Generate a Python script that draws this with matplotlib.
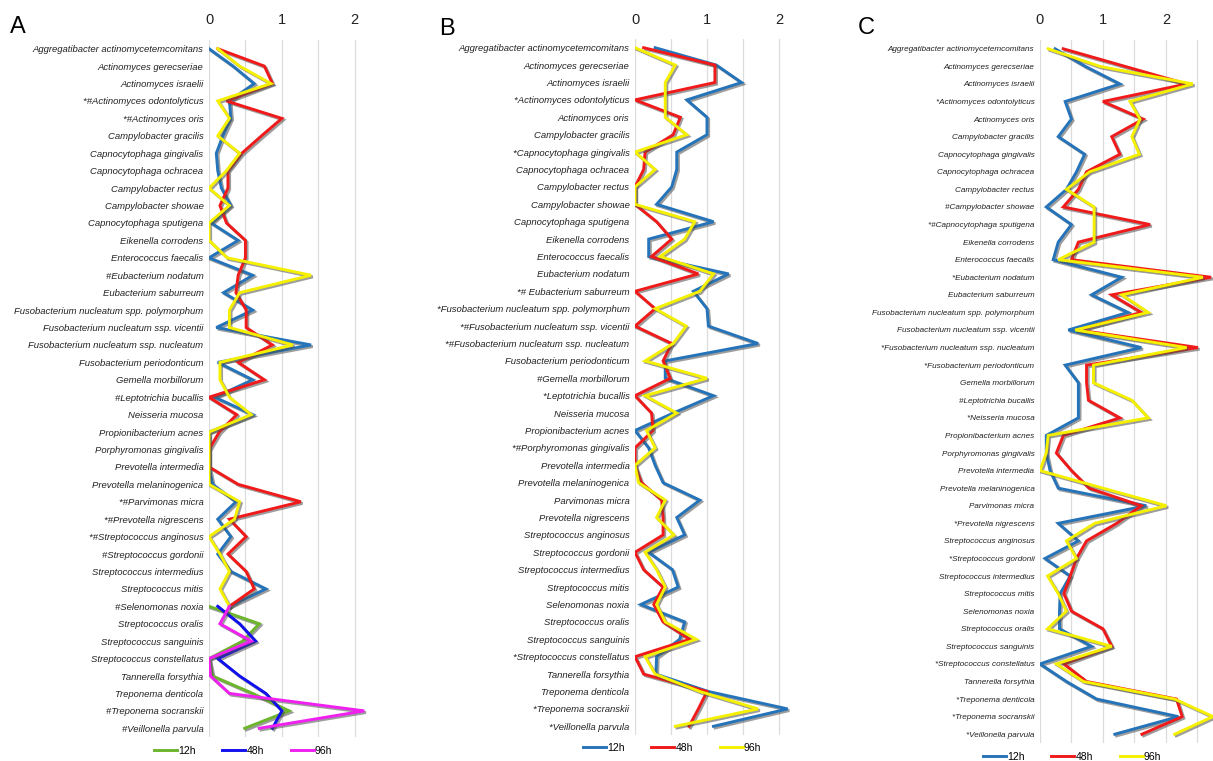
import numpy as np
import matplotlib
matplotlib.use('Agg')
import matplotlib.pyplot as plt
import matplotlib.patheffects as pe
from matplotlib.lines import Line2D

plt.rcParams['font.family'] = ['Liberation Sans', 'DejaVu Sans']

# ---------------- panel A ----------------
species_a = [
    'Aggregatibacter actinomycetemcomitans', 'Actinomyces gerecseriae', 'Actinomyces israelii',
    '*#Actinomyces odontolyticus', '*#Actinomyces oris', 'Campylobacter gracilis',
    'Capnocytophaga gingivalis', 'Capnocytophaga ochracea', 'Campylobacter rectus',
    'Campylobacter showae', 'Capnocytophaga sputigena', 'Eikenella corrodens',
    'Enterococcus faecalis', '#Eubacterium nodatum', 'Eubacterium saburreum',
    'Fusobacterium nucleatum spp. polymorphum', 'Fusobacterium nucleatum ssp. vicentii',
    'Fusobacterium nucleatum ssp. nucleatum', 'Fusobacterium periodonticum',
    'Gemella morbillorum', '#Leptotrichia bucallis', 'Neisseria mucosa',
    'Propionibacterium acnes', 'Porphyromonas gingivalis', 'Prevotella intermedia',
    'Prevotella melaninogenica', '*#Parvimonas micra', '*#Prevotella nigrescens',
    '*#Streptococcus anginosus', '#Streptococcus gordonii', 'Streptococcus intermedius',
    'Streptococcus mitis', '#Selenomonas noxia', 'Streptococcus oralis',
    'Streptococcus sanguinis', 'Streptococcus constellatus', 'Tannerella forsythia',
    'Treponema denticola', '#Treponema socranskii', '#Veillonella parvula']

# upper part of panel A (rows 0-32)
a_12h_top = [0.0, 0.33, 0.62, 0.28, 0.30, 0.19, 0.10, 0.12, 0.17, 0.30, 0.03, 0.40, 0.0,
             0.60, 0.20, 0.60, 0.10, 1.40, 0.12, 0.60, 0.08, 0.60, 0.0, 0.0, 0.0, 0.05,
             0.37, 0.12, 0.30, 0.12, 0.30, 0.78, 0.28]
a_48h_top = [0.12, 0.76, 0.87, 0.24, 1.00, 0.72, 0.45, 0.26, 0.26, 0.15, 0.24, 0.50, 0.50,
             0.40, 0.37, 0.51, 0.51, 0.87, 0.40, 0.76, 0.0, 0.38, 0.14, 0.0, 0.0, 0.40,
             1.26, 0.28, 0.51, 0.26, 0.51, 0.62, 0.28]
a_96h_top = [0.12, 0.42, 0.85, 0.12, 0.28, 0.12, 0.42, 0.24, 0.0, 0.28, 0.0, 0.0, 0.25,
             1.40, 0.42, 0.28, 0.28, 1.15, 0.15, 0.15, 0.28, 0.58, 0.0, 0.0, 0.0, 0.0,
             0.42, 0.35, 0.0, 0.15, 0.28, 0.15, 0.28]
# lower part of panel A (rows 32-39)
a_12h_low = [0.0, 0.69, 0.46, 0.0, 0.05, 0.60, 1.10, 0.49]
a_48h_low = [0.12, 0.42, 0.64, 0.12, 0.42, 0.78, 1.00, 0.87]
a_96h_low = [0.28, 0.15, 0.58, 0.0, 0.02, 0.28, 2.13, 0.69]

# ---------------- panel B ----------------
species_b = [
    'Aggregatibacter actinomycetemcomitans', 'Actinomyces gerecseriae', 'Actinomyces israelii',
    '*Actinomyces odontolyticus', 'Actinomyces oris', 'Campylobacter gracilis',
    '*Capnocytophaga gingivalis', 'Capnocytophaga ochracea', 'Campylobacter rectus',
    'Campylobacter showae', 'Capnocytophaga sputigena', 'Eikenella corrodens',
    'Enterococcus faecalis', 'Eubacterium nodatum', '*# Eubacterium saburreum',
    '*Fusobacterium nucleatum spp. polymorphum', '*#Fusobacterium nucleatum ssp. vicentii',
    '*#Fusobacterium nucleatum ssp. nucleatum', 'Fusobacterium periodonticum',
    '#Gemella morbillorum', '*Leptotrichia bucallis', 'Neisseria mucosa',
    'Propionibacterium acnes', '*#Porphyromonas gingivalis', 'Prevotella intermedia',
    'Prevotella melaninogenica', 'Parvimonas micra', 'Prevotella nigrescens',
    'Streptococcus anginosus', 'Streptococcus gordonii', 'Streptococcus intermedius',
    'Streptococcus mitis', 'Selenomonas noxia', 'Streptococcus oralis',
    'Streptococcus sanguinis', '*Streptococcus constellatus', 'Tannerella forsythia',
    'Treponema denticola', '*Treponema socranskii', '*Veillonella parvula']

b_12h = [0.28, 1.13, 1.48, 0.72, 1.00, 1.00, 0.58, 0.58, 0.51, 0.30, 1.09, 0.19, 0.19,
         1.30, 0.81, 1.00, 1.02, 1.71, 0.42, 0.42, 1.09, 0.53, 0.0, 0.19, 0.28, 0.39,
         0.90, 0.58, 0.69, 0.19, 0.52, 0.60, 0.08, 0.69, 0.62, 0.30, 0.29, 1.02, 2.12, 1.09]
b_48h = [0.12, 1.11, 1.11, 0.0, 0.63, 0.53, 0.14, 0.12, 0.0, 0.0, 0.30, 0.51, 0.23,
         0.88, 0.0, 0.28, 0.0, 0.51, 0.39, 0.49, 0.0, 0.23, 0.25, 0.0, 0.0, 0.09,
         0.37, 0.39, 0.39, 0.0, 0.12, 0.39, 0.26, 0.39, 0.76, 0.0, 0.12, 1.00, 0.88, 0.75]
b_96h = [0.0, 0.56, 0.42, 0.42, 0.42, 0.72, 0.0, 0.28, 0.0, 0.0, 0.83, 0.69, 0.35,
         1.09, 0.90, 0.28, 0.71, 0.53, 0.14, 1.00, 0.14, 0.58, 0.16, 0.28, 0.0, 0.05,
         0.42, 0.30, 0.54, 0.14, 0.30, 0.42, 0.30, 0.42, 0.85, 0.14, 0.28, 0.90, 1.71, 0.56]

# ---------------- panel C ----------------
species_c = [
    'Aggregatibacter actinomycetemcomitans', 'Actinomyces gerecseriae', 'Actinomyces israelii',
    '*Actinomyces odontolyticus', 'Actinomyces oris', 'Campylobacter gracilis',
    'Capnocytophaga gingivalis', 'Capnocytophaga ochracea', 'Campylobacter rectus',
    '#Campylobacter showae', '*#Capnocytophaga sputigena', 'Eikenella corrodens',
    'Enterococcus faecalis', '*Eubacterium nodatum', 'Eubacterium saburreum',
    'Fusobacterium nucleatum spp. polymorphum', 'Fusobacterium nucleatum ssp. vicentii',
    '*Fusobacterium nucleatum ssp. nucleatum', '*Fusobacterium periodonticum',
    'Gemella morbillorum', '#Leptotrichia bucallis', '*Neisseria mucosa',
    'Propionibacterium acnes', 'Porphyromonas gingivalis', 'Prevotella intermedia',
    'Prevotella melaninogenica', 'Parvimonas micra', '*Prevotella nigrescens',
    'Streptococcus anginosus', '*Streptococcus gordonii', 'Streptococcus intermedius',
    'Streptococcus mitis', 'Selenomonas noxia', 'Streptococcus oralis',
    'Streptococcus sanguinis', '*Streptococcus constellatus', 'Tannerella forsythia',
    '*Treponema denticola', '*Treponema socranskii', '*Veillonella parvula']

c_12h = [0.24, 0.72, 1.27, 0.40, 0.50, 0.29, 0.71, 0.58, 0.42, 0.10, 0.50, 0.29, 0.21,
         1.30, 0.82, 1.40, 0.45, 1.61, 0.40, 0.61, 0.61, 0.61, 0.10, 0.10, 0.16, 0.29,
         1.69, 0.29, 0.61, 0.08, 0.48, 0.32, 0.31, 0.31, 0.82, 0.0, 0.42, 0.90, 2.20, 1.19]
c_48h = [0.37, 1.35, 2.33, 1.00, 1.64, 1.14, 1.27, 0.74, 0.61, 0.37, 1.75, 0.61, 0.50,
         2.72, 1.14, 1.61, 0.61, 2.51, 0.74, 0.74, 0.77, 1.27, 0.37, 0.26, 0.50, 0.78,
         1.61, 1.22, 0.74, 0.58, 0.48, 0.38, 0.50, 1.00, 1.14, 0.38, 0.74, 2.17, 2.26, 1.62]
c_96h = [0.13, 0.95, 2.43, 1.43, 1.59, 1.46, 1.58, 0.79, 0.42, 0.86, 0.86, 0.86, 0.29,
         2.59, 1.30, 1.72, 0.56, 2.33, 0.85, 0.85, 1.46, 1.72, 0.13, 0.10, 0.0, 1.00,
         2.01, 0.87, 0.42, 0.58, 0.12, 0.29, 0.42, 0.12, 1.14, 0.26, 0.69, 2.14, 2.75, 2.14]

times = ['12h', '48h', '96h']
col_12, col_48, col_96 = '#2573b8', '#f01a1a', '#f5f000'
col_green, col_navy, col_mag = '#6cb52d', '#1010ee', '#f020f0'

W, H = 1213, 761
fig = plt.figure(figsize=(W / 100, H / 100), dpi=100)


def px_axes(left, top, right, bottom):
    return fig.add_axes([left / W, 1 - bottom / H, (right - left) / W, (bottom - top) / H])


shadow = [pe.SimpleLineShadow(offset=(1.2, -1.2), shadow_color='0.3', alpha=0.55), pe.Normal()]


def setup(ax, labels, xmax, fs):
    n = len(labels)
    ax.set_xlim(0, xmax)
    ax.set_ylim(n - 0.5, -0.5)
    ax.set_yticks(np.arange(n))
    ax.set_yticklabels(labels, fontsize=fs, style='italic', color='#222222')
    ax.xaxis.tick_top()
    ax.set_xticks([0, 1, 2])
    ax.set_xticklabels(['0', '1', '2'], fontsize=10.5, color='#222222')
    ax.set_xticks(np.arange(0.5, xmax, 1.0), minor=True)
    ax.grid(True, axis='x', which='both', color='#dcdcdc', lw=0.9)
    ax.set_axisbelow(True)
    ax.tick_params(axis='both', which='both', length=0)
    ax.tick_params(axis='x', pad=9)
    ax.tick_params(axis='y', pad=4)
    for s in ax.spines.values():
        s.set_visible(False)


def draw(ax, values, rows, color):
    ax.plot(values, rows, color=color, lw=2.1, solid_joinstyle='miter',
            path_effects=shadow, clip_on=True)


# panel A
axA = px_axes(209, 40, 373, 737)
setup(axA, species_a, 2.25, 6.8)
top_rows = np.arange(len(a_12h_top))
low_rows = np.arange(len(species_a) - len(a_12h_low), len(species_a))
draw(axA, a_12h_top, top_rows, col_12)
draw(axA, a_48h_top, top_rows, col_48)
draw(axA, a_96h_top, top_rows, col_96)
draw(axA, a_12h_low, low_rows, col_green)
draw(axA, a_48h_low, low_rows, col_navy)
draw(axA, a_96h_low, low_rows, col_mag)

# panel B
axB = px_axes(635, 39, 797, 735)
setup(axB, species_b, 2.25, 6.8)
rows_b = np.arange(len(species_b))
draw(axB, b_12h, rows_b, col_12)
draw(axB, b_48h, rows_b, col_48)
draw(axB, b_96h, rows_b, col_96)

# panel C
axC = px_axes(1040, 40, 1213, 743)
setup(axC, species_c, 2.75, 5.9)
rows_c = np.arange(len(species_c))
draw(axC, c_12h, rows_c, col_12)
draw(axC, c_48h, rows_c, col_48)
draw(axC, c_96h, rows_c, col_96)


def legend(colors, cx, cy):
    handles = [Line2D([], [], color=c, lw=2.1) for c in colors]
    fig.legend(handles, times, loc='center', bbox_to_anchor=(cx / W, 1 - cy / H), ncol=3,
               frameon=False, fontsize=7.5, handlelength=2.2, handletextpad=0.1,
               columnspacing=2.6)


legend([col_green, col_navy, col_mag], 243, 751)
legend([col_12, col_48, col_96], 672, 748)
legend([col_12, col_48, col_96], 1072, 757)

for letter, x, y in [('A', 10, 27), ('B', 439, 29), ('C', 858, 28)]:
    fig.text(x / W, 1 - y / H, letter, fontsize=17, va='center', ha='left', family='Liberation Sans')

fig.savefig('out.png', dpi=100)
